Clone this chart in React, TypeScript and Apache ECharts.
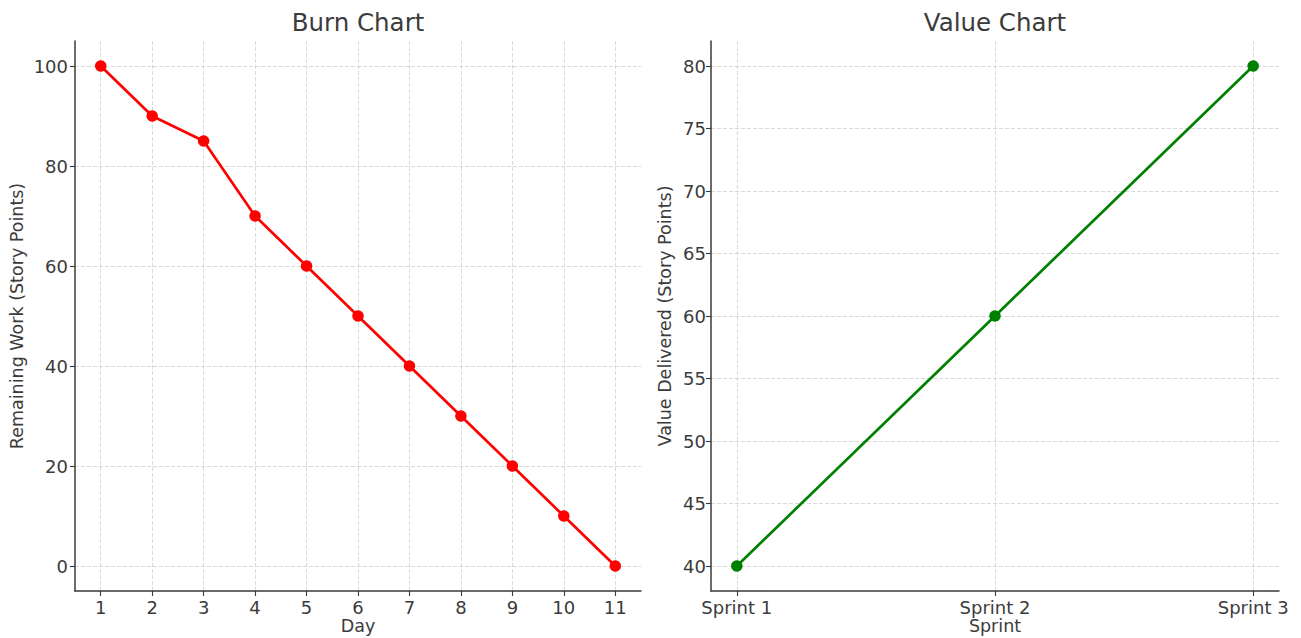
import React, { useEffect, useRef } from "react";
import * as echarts from "echarts";

const days = [1, 2, 3, 4, 5, 6, 7, 8, 9, 10, 11];
const remainingWork = [100, 90, 85, 70, 60, 50, 40, 30, 20, 10, 0];
const burnYTicks = [0, 20, 40, 60, 80, 100];

const sprints = ["Sprint 1", "Sprint 2", "Sprint 3"];
const sprintPos = [1, 2, 3];
const valueDelivered = [40, 60, 80];
const valueYTicks = [40, 45, 50, 55, 60, 65, 70, 75, 80];

const FONT = "DejaVu Sans";
const TEXT = "#3b3b3b";
const AXIS = "#3a3a3a";
const GRIDC = "#cfcfcf";
const FS = 18;

function axisCommon() {
  return {
    nameMoveOverlap: false,
    axisLine: { show: true, onZero: false, lineStyle: { color: AXIS, width: 1.5 } },
    axisTick: { show: true, inside: false, length: 5, lineStyle: { color: AXIS, width: 1.1 } },
    splitLine: { show: true, lineStyle: { color: GRIDC, type: [4, 2], width: 0.8 } },
    nameTextStyle: { fontFamily: FONT, fontSize: 17.5, color: TEXT },
  };
}

export default function App() {
  const ref = useRef<HTMLDivElement>(null);
  useEffect(() => {
    if (!ref.current) return;
    const chart = echarts.init(ref.current, null, { renderer: "svg" });
    const c = axisCommon();
    const label = { fontFamily: FONT, fontSize: FS, color: TEXT };
    chart.setOption({
      animation: false,
      backgroundColor: "#ffffff",
      title: [
        {
          text: "Burn Chart",
          left: 358,
          top: 10,
          padding: 0,
          textAlign: "center",
          textStyle: { fontFamily: FONT, fontSize: 24.5, fontWeight: "normal", color: TEXT },
        },
        {
          text: "Value Chart",
          left: 995,
          top: 10,
          padding: 0,
          textAlign: "center",
          textStyle: { fontFamily: FONT, fontSize: 24.5, fontWeight: "normal", color: TEXT },
        },
      ],
      grid: [
        { left: 75, top: 41, right: 660, bottom: 47, outerBoundsMode: "none", containLabel: false },
        { left: 711, top: 41, right: 22, bottom: 47, outerBoundsMode: "none", containLabel: false },
      ],
      xAxis: [
        {
          type: "value",
          gridIndex: 0,
          min: 0.5,
          max: 11.5,
          name: "Day",
          nameLocation: "middle",
          nameGap: 26,
          ...c,
          axisTick: { ...c.axisTick, customValues: days },
          axisLabel: { customValues: days, margin: 7, ...label },
        },
        {
          type: "value",
          gridIndex: 1,
          min: 0.9,
          max: 3.1,
          name: "Sprint",
          nameLocation: "middle",
          nameGap: 26,
          ...c,
          axisTick: { ...c.axisTick, customValues: sprintPos },
          axisLabel: {
            customValues: sprintPos,
            margin: 7,
            ...label,
            formatter: (v: number) => sprints[Math.round(v) - 1] ?? "",
          },
        },
      ],
      yAxis: [
        {
          type: "value",
          gridIndex: 0,
          min: -5,
          max: 105,
          name: "Remaining Work (Story Points)",
          nameLocation: "middle",
          nameGap: 49,
          ...c,
          axisTick: { ...c.axisTick, customValues: burnYTicks },
          axisLabel: { customValues: burnYTicks, margin: 7, ...label },
        },
        {
          type: "value",
          gridIndex: 1,
          min: 38,
          max: 82,
          name: "Value Delivered (Story Points)",
          nameLocation: "middle",
          nameGap: 37,
          ...c,
          axisTick: { ...c.axisTick, customValues: valueYTicks },
          axisLabel: { customValues: valueYTicks, margin: 5, ...label },
        },
      ],
      series: [
        {
          type: "line",
          xAxisIndex: 0,
          yAxisIndex: 0,
          data: days.map((d, i) => [d, remainingWork[i]]),
          symbol: "circle",
          symbolSize: 11.5,
          lineStyle: { color: "#ff0000", width: 2.7 },
          itemStyle: { color: "#ff0000" },
        },
        {
          type: "line",
          xAxisIndex: 1,
          yAxisIndex: 1,
          data: sprintPos.map((s, i) => [s, valueDelivered[i]]),
          symbol: "circle",
          symbolSize: 11.5,
          lineStyle: { color: "#008000", width: 2.7 },
          itemStyle: { color: "#008000" },
        },
      ],
    });
    return () => chart.dispose();
  }, []);
  return (
    <div
      ref={ref}
      style={{ position: "fixed", left: 0, top: 0, width: 1301, height: 638, background: "#fff" }}
    />
  );
}
